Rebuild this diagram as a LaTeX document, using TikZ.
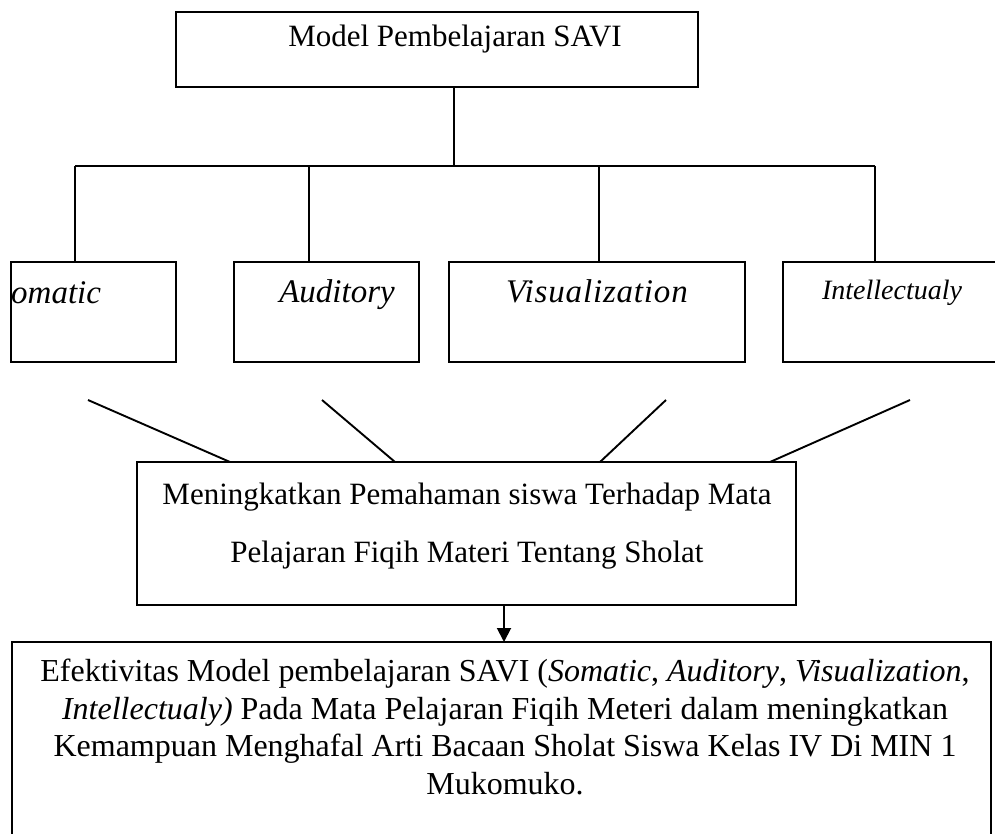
\documentclass[tikz,border=0pt]{standalone}
\usepackage{fontspec}
\setmainfont{Liberation Serif}
\usetikzlibrary{arrows.meta}
\begin{document}
\begin{tikzpicture}[x=1pt,y=-1pt,
  box/.style={draw,line width=1.9pt},
  ln/.style={line width=1.9pt},
  lbl/.style={font=\fontsize{31}{36}\selectfont},
  ilbl/.style={font=\fontsize{33}{36}\selectfont\itshape,anchor=base}]
\useasboundingbox (0,0) rectangle (995,834);
% top box
\draw[box] (176,12) rectangle (698,87);
\node[lbl] (top) at (455,39) {Model Pembelajaran SAVI};
\coordinate (topb) at (454,87);
\coordinate (bar) at (454,166);
\draw[ln] (topb) -- (bar);
\draw[ln] (75,166) -- (875,166);
% SAVI boxes
\draw[box] (11,262) rectangle (176,362);
\draw[box] (234,262) rectangle (419,362);
\draw[box] (449,262) rectangle (745,362);
\draw[box] (783,262) rectangle (1000,362);
\draw[ln] (75,166) -- (75,262);
\draw[ln] (309,166) -- (309,262);
\draw[ln] (599,166) -- (599,262);
\draw[ln] (875,166) -- (875,262);
\node[ilbl,anchor=base west,inner sep=0] (s) at (11,303) {omatic};
\node[ilbl] (a) at (337,302) {Auditory};
\node[ilbl] (v) at (597,302) {\addfontfeature{LetterSpace=2.5}Visualization};
\node[font=\fontsize{28}{32}\selectfont\itshape,anchor=base] (i) at (892,299) {Intellectualy};
% middle box
\draw[box] (137,462) rectangle (796,605);
\node[lbl] (m1) at (467,497) {Meningkatkan Pemahaman siswa Terhadap Mata};
\node[lbl] (m2) at (467,555) {Pelajaran Fiqih Materi Tentang Sholat};
\coordinate (d1a) at (88,400); \coordinate (d1b) at (230,462);
\coordinate (d2a) at (322,400); \coordinate (d2b) at (395,462);
\coordinate (d3a) at (666,400); \coordinate (d3b) at (600,462);
\coordinate (d4a) at (910,400); \coordinate (d4b) at (770,462);
\draw[ln] (d1a) -- (d1b);
\draw[ln] (d2a) -- (d2b);
\draw[ln] (d3a) -- (d3b);
\draw[ln] (d4a) -- (d4b);
% arrow
\coordinate (ar1) at (504,605);
\coordinate (ar2) at (504,642);
\draw[ln,-{Triangle[length=14pt,width=14pt]}] (ar1) -- (ar2);
% bottom box
\draw[box] (991,850) -- (991,642) -- (12,642) -- (12,850);
\node[align=center,font=\fontsize{32}{37.5}\selectfont] (b) at (505,727) {%
Efektivitas Model pembelajaran SAVI (\textit{Somatic}, \textit{Auditory}, \textit{Visualization},\\
\textit{Intellectualy)} Pada Mata Pelajaran Fiqih Meteri dalam meningkatkan\\
Kemampuan Menghafal Arti Bacaan Sholat Siswa Kelas IV Di MIN 1\\
Mukomuko.};
\end{tikzpicture}
\end{document}
